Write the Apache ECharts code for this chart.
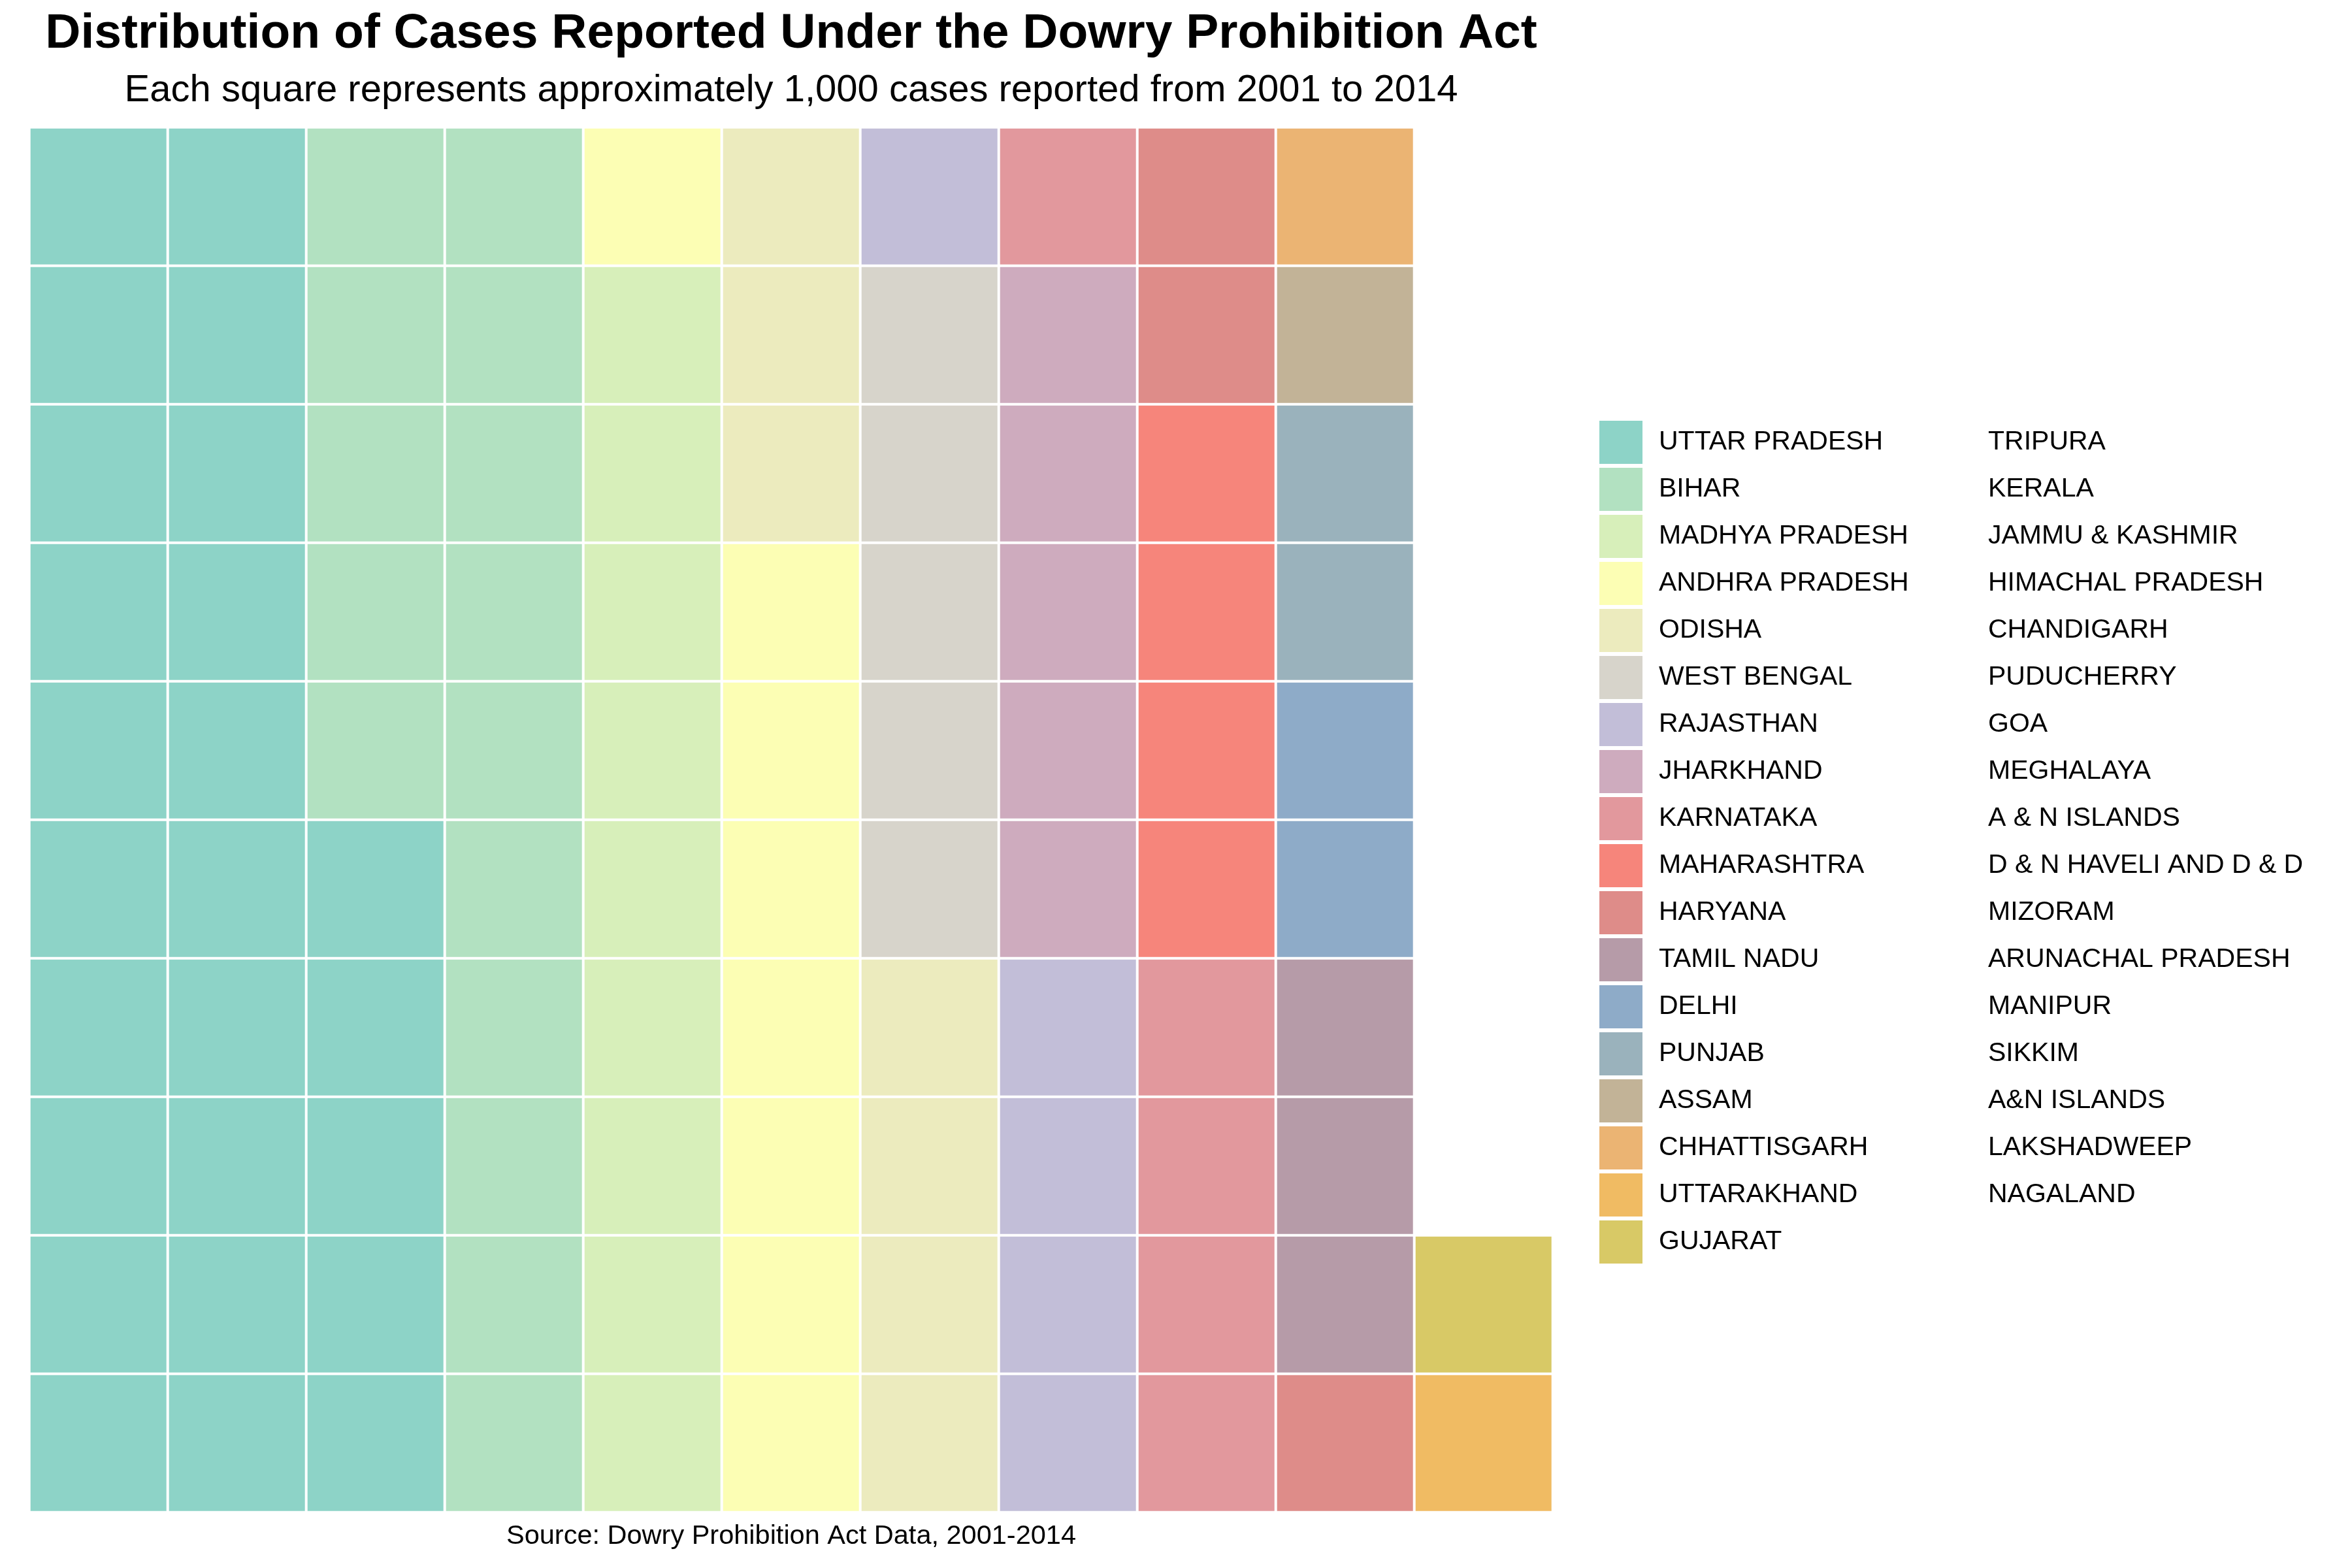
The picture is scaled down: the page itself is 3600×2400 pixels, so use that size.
<!DOCTYPE html>
<html>
<head>
<meta charset="utf-8">
<title>Dowry Prohibition Act - waffle</title>
<script src="https://cdn.jsdelivr.net/npm/echarts@6/dist/echarts.min.js"></script>
<style>
  html, body { margin: 0; padding: 0; background: #fff; }
  #chart { width: 3600px; height: 2400px; }
</style>
</head>
<body>
<div id="chart"></div>
<script>
// states in legend order
const states = [
  'UTTAR PRADESH', 'BIHAR', 'MADHYA PRADESH', 'ANDHRA PRADESH', 'ODISHA', 'WEST BENGAL',
  'RAJASTHAN', 'JHARKHAND', 'KARNATAKA', 'MAHARASHTRA', 'HARYANA', 'TAMIL NADU',
  'DELHI', 'PUNJAB', 'ASSAM', 'CHHATTISGARH', 'UTTARAKHAND', 'GUJARAT',
  'TRIPURA', 'KERALA', 'JAMMU & KASHMIR', 'HIMACHAL PRADESH', 'CHANDIGARH', 'PUDUCHERRY',
  'GOA', 'MEGHALAYA', 'A & N ISLANDS', 'D & N HAVELI AND D & D', 'MIZORAM',
  'ARUNACHAL PRADESH', 'MANIPUR', 'SIKKIM', 'A&N ISLANDS', 'LAKSHADWEEP', 'NAGALAND'
]
// squares per state (~1,000 cases each)
const squares = [
  25, 15, 9, 8, 7, 5, 5, 5, 5, 4, 3, 3, 2, 2, 1, 1, 1, 1,
  0, 0, 0, 0, 0, 0, 0, 0, 0, 0, 0, 0, 0, 0, 0, 0, 0
]
const colors = [
  '#8DD3C7', '#B2E1C1', '#D7EFBA', '#FCFEB4', '#ECEBBE', '#D7D4CB',
  '#C2BED8', '#CEABBE', '#E2989D', '#F6857B', '#DE8C89', '#B69BA8',
  '#8EABC8', '#9AB2BC', '#C2B397', '#EBB473', '#F0BB63', '#D8C966'
]
const columns = ['1', '2', '3', '4', '5', '6', '7', '8', '9', '10', '11']
const rows = ['1', '2', '3', '4', '5', '6', '7', '8', '9', '10']

const FONT = '"Liberation Sans", Arial, Helvetica, sans-serif'
const GAP = 4

const chart = echarts.init(document.getElementById('chart'))

const renderTile = (params, api) => {
  const c = api.coord([api.value(0), api.value(1)])
  const s = api.size([1, 1])
  return {
    type: 'rect',
    shape: {
      x: c[0] - s[0] / 2 + GAP / 2,
      y: c[1] - s[1] / 2 + GAP / 2,
      width: s[0] - GAP,
      height: s[1] - GAP
    },
    style: { fill: api.visual('color') }
  }
}

// fill the waffle column by column, bottom to top
let k = 0
const series = states.map((name, i) => {
  const cells = []
  for (let n = 0; n < squares[i]; n++, k++) {
    cells.push([Math.floor(k / rows.length), k % rows.length])
  }
  return {
    name,
    type: 'custom',
    renderItem: renderTile,
    encode: { x: 0, y: 1 },
    itemStyle: { color: colors[i] || 'rgba(0,0,0,0)' },
    data: cells
  }
})

const legendBase = {
  orient: 'vertical',
  top: 644,
  padding: 0,
  itemWidth: 66,
  itemHeight: 66,
  itemGap: 6,
  icon: 'rect',
  selectedMode: false,
  textStyle: { fontSize: 41, color: '#000', fontFamily: FONT, padding: [0, 0, 0, 20] }
}

const option = {
  animation: false,
  backgroundColor: '#fff',
  grid: { left: 44.7, top: 194.7, width: 2332, height: 2120 },
  xAxis: { type: 'category', data: columns, show: false },
  yAxis: { type: 'category', data: rows, show: false },
  legend: [
    { ...legendBase, left: 2448, data: states.slice(0, 18) },
    { ...legendBase, left: 2952, data: states.slice(18) }
  ],
  graphic: [
    {
      type: 'text', x: 1211, y: 52,
      style: {
        text: 'Distribution of Cases Reported Under the Dowry Prohibition Act',
        font: 'bold 75px ' + FONT, fill: '#000', textAlign: 'center', textVerticalAlign: 'middle'
      }
    },
    {
      type: 'text', x: 1211, y: 139,
      style: {
        text: 'Each square represents approximately 1,000 cases reported from 2001 to 2014',
        font: '58px ' + FONT, fill: '#000', textAlign: 'center', textVerticalAlign: 'middle'
      }
    },
    {
      type: 'text', x: 1211, y: 2352,
      style: {
        text: 'Source: Dowry Prohibition Act Data, 2001-2014',
        font: '41.5px ' + FONT, fill: '#000', textAlign: 'center', textVerticalAlign: 'middle'
      }
    }
  ],
  series
}

chart.setOption(option)
</script>
</body>
</html>
